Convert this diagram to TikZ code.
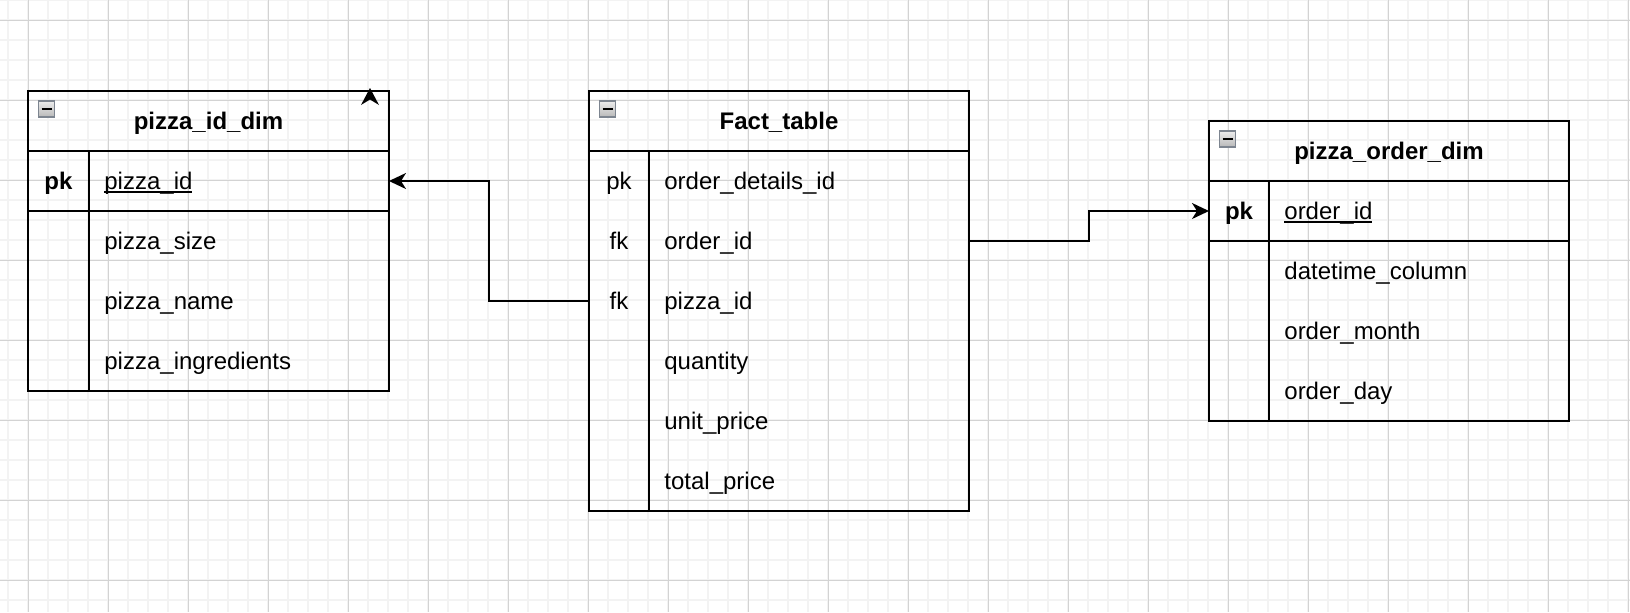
\documentclass[tikz,border=0pt]{standalone}
\usepackage{fontspec}
\setmainfont{Liberation Sans}
\usetikzlibrary{arrows.meta}
\definecolor{gridminor}{HTML}{F3F3F3}
\definecolor{gridmajor}{HTML}{D3D3D3}
\definecolor{iconborder}{HTML}{7D8590}
\newcommand{\myul}[1]{{\setbox0\hbox{#1}\rlap{\rule[-1.65pt]{\wd0}{0.8pt}}\box0}}
\begin{document}
\fontsize{12pt}{14.4pt}\selectfont
\begin{tikzpicture}[x=0.5pt,y=-0.5pt,
  box/.style={draw, line width=1pt, inner sep=0pt, outer sep=0pt, anchor=north west},
  rowcell/.style={inner sep=0pt, outer sep=0pt, minimum height=30pt},
  txt/.style={inner sep=0pt, text height=11pt, text depth=2.7pt},
  title/.style={txt, font=\bfseries},
  keytxt/.style={txt},
  keybold/.style={txt, font=\bfseries},
  field/.style={txt, anchor=west},
  sepline/.style={line width=1pt},
  link/.style={line width=1pt, -{Stealth[length=8.5pt,width=8pt,inset=2.5pt]}},
  minusicon/.style={draw=iconborder, line width=0.6pt, top color=gray!15, bottom color=gray!55, minimum width=8pt, minimum height=8pt, inner sep=0pt}
]
\useasboundingbox (0,0) rectangle (1630,612);
% grid
\foreach \x in {8,28,...,1628} \draw[gridminor, line width=1pt] (\x,0) -- (\x,612);
\foreach \y in {0,20,...,600} \draw[gridminor, line width=1pt] (0,\y) -- (1630,\y);
\foreach \x in {28,108,...,1628} \draw[gridmajor, line width=0.5pt] (\x,0) -- (\x,612);
\foreach \y in {20,100,...,580} \draw[gridmajor, line width=0.5pt] (0,\y) -- (1630,\y);

% ---------- table 1: pizza_id_dim ----------
\node[box, minimum width=180.5pt, minimum height=150pt] (t1) at (28,91) {};
\draw[sepline] (28,151) -- (389,151);
\draw[sepline] (28,211) -- (389,211);
\draw[sepline] (89,151) -- (89,391);
\node[minusicon] (t1m) at (46.5,109) {};
\draw[line width=0.9pt] ([xshift=1.8pt]t1m.west) -- ([xshift=-1.8pt]t1m.east);
\node[title] (t1t) at (208.5,121) {pizza\_id\_dim};
\node[rowcell, minimum width=180.5pt] (t1r1) at (208.5,181) {};
\node[rowcell, minimum width=180.5pt] (t1r2) at (208.5,241) {};
\node[rowcell, minimum width=180.5pt] (t1r3) at (208.5,301) {};
\node[rowcell, minimum width=180.5pt] (t1r4) at (208.5,361) {};
\node[keybold] (t1k1) at (58.5,181) {pk};
\node[field] (t1f1) at (104,181) {\myul{pizza\_id}};
\node[field] (t1f2) at (104,241) {pizza\_size};
\node[field] (t1f3) at (104,301) {pizza\_name};
\node[field] (t1f4) at (104,361) {pizza\_ingredients};
\fill (370,88) -- (379,105) -- (370,99.5) -- (361,105) -- cycle;

% ---------- table 2: Fact_table ----------
\node[box, minimum width=190pt, minimum height=210pt] (t2) at (589,91) {};
\draw[sepline] (589,151) -- (969,151);
\draw[sepline] (649,151) -- (649,511);
\node[minusicon] (t2m) at (607.5,109) {};
\draw[line width=0.9pt] ([xshift=1.8pt]t2m.west) -- ([xshift=-1.8pt]t2m.east);
\node[title] (t2t) at (779,121) {Fact\_table};
\node[rowcell, minimum width=190pt] (t2r1) at (779,181) {};
\node[rowcell, minimum width=190pt] (t2r2) at (779,241) {};
\node[rowcell, minimum width=190pt] (t2r3) at (779,301) {};
\node[rowcell, minimum width=190pt] (t2r4) at (779,361) {};
\node[rowcell, minimum width=190pt] (t2r5) at (779,421) {};
\node[rowcell, minimum width=190pt] (t2r6) at (779,481) {};
\node[keytxt] (t2k1) at (619,181) {pk};
\node[keytxt] (t2k2) at (619,241) {fk};
\node[keytxt] (t2k3) at (619,301) {fk};
\node[field] (t2f1) at (664,181) {order\_details\_id};
\node[field] (t2f2) at (664,241) {order\_id};
\node[field] (t2f3) at (664,301) {pizza\_id};
\node[field] (t2f4) at (664,361) {quantity};
\node[field] (t2f5) at (664,421) {unit\_price};
\node[field] (t2f6) at (664,481) {total\_price};

% ---------- table 3: pizza_order_dim ----------
\node[box, minimum width=180pt, minimum height=150pt] (t3) at (1209,121) {};
\draw[sepline] (1209,181) -- (1569,181);
\draw[sepline] (1209,241) -- (1569,241);
\draw[sepline] (1269,181) -- (1269,421);
\node[minusicon] (t3m) at (1227.5,139) {};
\draw[line width=0.9pt] ([xshift=1.8pt]t3m.west) -- ([xshift=-1.8pt]t3m.east);
\node[title] (t3t) at (1389,151) {pizza\_order\_dim};
\node[rowcell, minimum width=180pt] (t3r1) at (1389,211) {};
\node[rowcell, minimum width=180pt] (t3r2) at (1389,271) {};
\node[rowcell, minimum width=180pt] (t3r3) at (1389,331) {};
\node[rowcell, minimum width=180pt] (t3r4) at (1389,391) {};
\node[keybold] (t3k1) at (1239,211) {pk};
\node[field] (t3f1) at (1284,211) {\myul{order\_id}};
\node[field] (t3f2) at (1284,271) {datetime\_column};
\node[field] (t3f3) at (1284,331) {order\_month};
\node[field] (t3f4) at (1284,391) {order\_day};

% ---------- connectors ----------
\draw[link] (t2r3.west) -- ++(-100,0) |- (t1r1.east);
\draw[link] (t2r2.east) -- ++(120,0) |- (t3r1.west);
\end{tikzpicture}
\end{document}
